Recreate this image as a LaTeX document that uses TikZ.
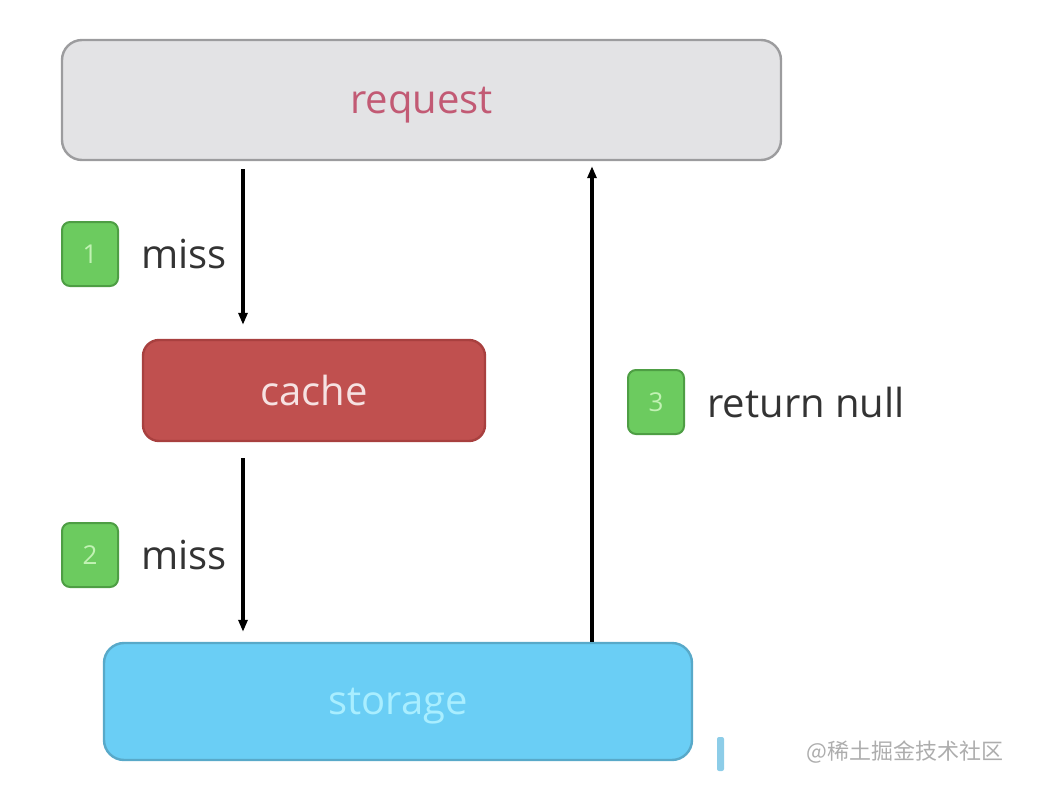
\documentclass[tikz,border=0pt]{standalone}
\usepackage{fontspec}
\setmainfont{Open Sans}
\newfontfamily\cjk{Noto Sans CJK SC}
\usetikzlibrary{arrows.meta,positioning}
\definecolor{reqfill}{HTML}{E3E3E5}
\definecolor{reqline}{HTML}{9C9C9E}
\definecolor{reqtext}{HTML}{C25A74}
\definecolor{cachefill}{HTML}{C0504F}
\definecolor{cacheline}{HTML}{A8403F}
\definecolor{cachetext}{HTML}{F6E2E2}
\definecolor{storefill}{HTML}{6ACEF5}
\definecolor{storeline}{HTML}{58A9C9}
\definecolor{storetext}{HTML}{A9EEFF}
\definecolor{badgefill}{HTML}{6CCB5F}
\definecolor{badgeline}{HTML}{4E9E44}
\definecolor{badgetext}{HTML}{C2F2B4}
\definecolor{barblue}{HTML}{8DCDE8}
\begin{document}
\begin{tikzpicture}[x=0.5pt,y=-0.5pt,
  box/.style={draw,line width=1.2pt,rounded corners=10pt,inner sep=0pt,text depth=0pt,font=\fontsize{20}{24}\selectfont},
  badge/.style={draw=badgeline,fill=badgefill,line width=1pt,rounded corners=4pt,
    minimum width=28pt,minimum height=32pt,inner sep=0pt,text=badgetext,font=\fontsize{13}{15}\selectfont},
  lbl/.style={anchor=west,inner sep=0pt,text=black!80,font=\fontsize{20}{24}\selectfont},
  flow/.style={line width=1.6pt,-{Triangle[length=6pt,width=4.5pt]}}]
\useasboundingbox (0,0) rectangle (1046,798);
% boxes
\node[box,draw=reqline,fill=reqfill,text=reqtext,minimum width=359.5pt,minimum height=60pt] (request) at (421.5,100) {request};
\node[box,draw=cacheline,fill=cachefill,text=cachetext,minimum width=171pt,minimum height=50.5pt,rounded corners=8pt] (cache) at (314,390.5) {cache};
\node[box,draw=storeline,fill=storefill,text=storetext,minimum width=294pt,minimum height=58.5pt] (storage) at (398,701.5) {storage};
% arrow columns
\coordinate (down) at (243,0);
\coordinate (up) at (592,0);
\draw[flow,shorten <=4pt,shorten >=7pt] (request.south -| down) -- (cache.north -| down);
\draw[flow,shorten <=8pt,shorten >=5pt] (cache.south -| down) -- (storage.north -| down);
\draw[flow,shorten >=2.5pt] (storage.north -| up) -- (request.south -| up);
% steps
\node[badge] (b1) at (90,254) {1};
\node[lbl,right=11pt of b1] (l1) {miss};
\node[badge] (b2) at (90,555) {2};
\node[lbl,right=11pt of b2] (l2) {miss};
\node[badge] (b3) at (656,402) {3};
\node[lbl,right=11pt of b3] (l3) {return null};
% watermark
\fill[barblue,rounded corners=1pt] (717,737) rectangle (724,771);
\node[anchor=west,inner sep=0pt,text=black!32,font=\cjk\fontsize{11}{13}\selectfont] (mark) at (806,752) {@稀土掘金技术社区};
\end{tikzpicture}
\end{document}
